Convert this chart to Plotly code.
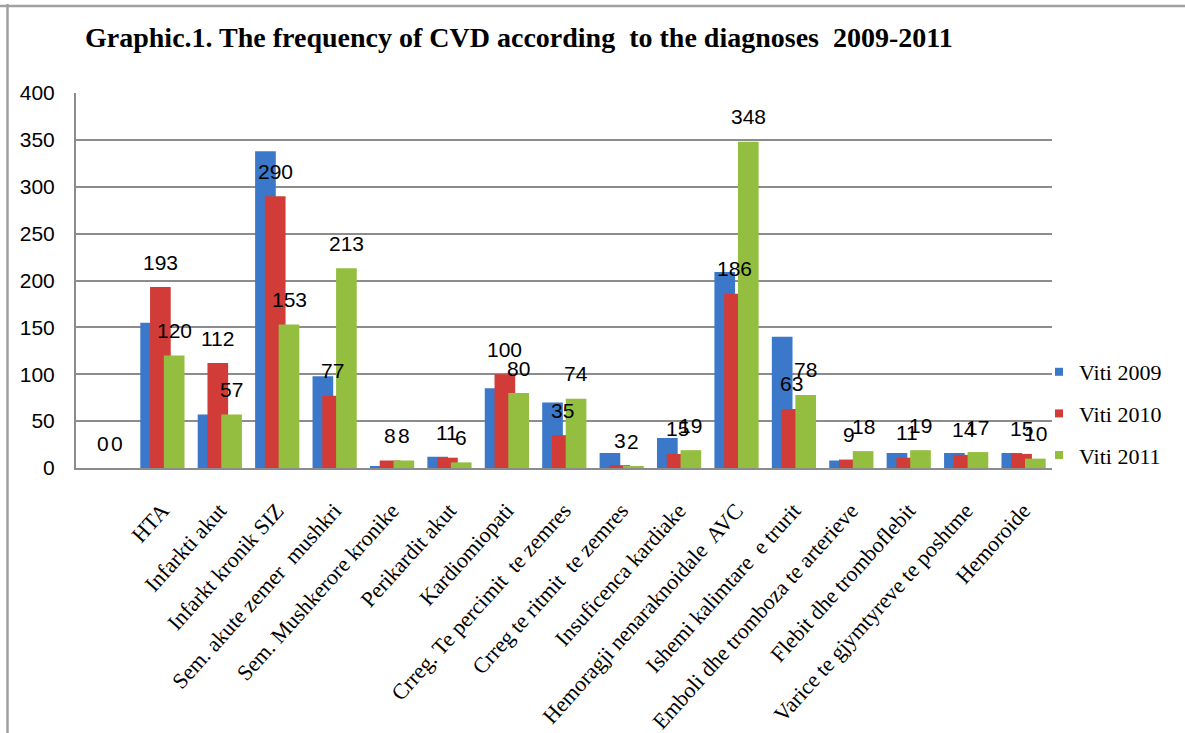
import plotly.graph_objects as go

categories = ["", "HTA", "Infarkti akut", "Infarkt kronik SIZ", "Sem. akute zemer  mushkri",
              "Sem. Mushkerore kronike", "Perikardit akut", "Kardiomiopati",
              "Crreg. Te percimit  te zemres", "Crreg te ritmit  te zemres", "Insuficenca kardiake",
              "Hemoragji nenaraknoidale  AVC", "Ishemi kalimtare  e trurit",
              "Emboli dhe tromboza te arterieve", "Flebit dhe tromboflebit",
              "Varice te gjymtyreve te poshtme", "Hemoroide"]
series_names = ["Viti 2009", "Viti 2010", "Viti 2011"]
viti_2009 = [0, 155, 57, 338, 98, 2, 12, 85, 70, 16, 32, 209, 140, 8, 16, 16, 16]
viti_2010 = [0, 193, 112, 290, 77, 8, 11, 100, 35, 3, 15, 186, 63, 9, 11, 14, 15]
viti_2011 = [0, 120, 57, 153, 213, 8, 6, 80, 74, 2, 19, 348, 78, 18, 19, 17, 10]
y_ticks = [0, 50, 100, 150, 200, 250, 300, 350, 400]

colors = ["#3B78C9", "#D13B38", "#93BE3F"]
offsets = [-0.38, -0.21, 0.03]
bar_w = 0.36
labeled = [False, True, True]

xs = list(range(len(categories)))
series = [viti_2009, viti_2010, viti_2011]

fig = go.Figure()
for vals, name, col, off in zip(series, series_names, colors, offsets):
    fig.add_trace(go.Bar(
        x=xs, y=vals, name=name, offset=off, width=bar_w,
        marker=dict(color=col, line=dict(width=0)),
        showlegend=False,
    ))
for name, col in zip(series_names, colors):
    fig.add_trace(go.Scatter(
        x=[None], y=[None], mode="markers", name=name,
        marker=dict(symbol="square", size=8, color=col),
    ))

annotations = []
for vals, off, lab in zip(series, offsets, labeled):
    if not lab:
        continue
    for xi, v in zip(xs, vals):
        annotations.append(dict(
            x=xi + off + bar_w / 2, y=v, xref="x", yref="y",
            text=str(v), showarrow=False, yanchor="middle", yshift=25,
            font=dict(family="Liberation Sans", size=21, color="#000000"),
        ))

W, H = 1185, 733
L, R, T, B = 76, 1052, 93, 468
pw, ph = R - L, B - T

def px_x(p):
    return (p - L) / pw

def px_y(p):
    return (B - p) / ph

shapes = [
    dict(type="line", xref="paper", yref="paper", x0=px_x(0), x1=px_x(W), y0=px_y(6), y1=px_y(6),
         line=dict(color="#A0A0A0", width=2.5)),
    dict(type="line", xref="paper", yref="paper", x0=px_x(7.5), x1=px_x(7.5), y0=px_y(4), y1=px_y(H),
         line=dict(color="#A0A0A0", width=2.5)),
]

fig.update_layout(
    width=W, height=H,
    margin=dict(l=L, r=W - R, t=T, b=H - B, autoexpand=False),
    paper_bgcolor="white", plot_bgcolor="white",
    barmode="overlay",
    title=dict(text="<b>Graphic.1. The frequency of CVD according  to the diagnoses  2009-2011</b>",
               x=85 / W, xref="container", xanchor="left",
               y=1 - 37 / H, yref="container", yanchor="middle",
               font=dict(family="Liberation Serif", size=28, color="#000000")),
    xaxis=dict(range=[-0.5, len(categories) - 0.5], tickmode="array", tickvals=xs, ticktext=categories,
               tickangle=-48, showgrid=False, zeroline=False, showline=True, linecolor="#8C8C8C", linewidth=2,
               ticks="", ticklabelstandoff=19,
               tickfont=dict(family="Liberation Serif", size=22, color="#000000")),
    yaxis=dict(range=[0, 400], tickvals=y_ticks, showgrid=True, gridcolor="#8C8C8C", gridwidth=1.5,
               zeroline=False, showline=True, linecolor="#8C8C8C", linewidth=2, ticks="",
               ticklabelstandoff=15,
               tickfont=dict(family="Liberation Sans", size=21, color="#000000")),
    legend=dict(x=px_x(1039), y=px_y(351), xanchor="left", yanchor="top",
                font=dict(family="Liberation Serif", size=22, color="#000000"),
                bgcolor="rgba(0,0,0,0)", tracegroupgap=10, traceorder="grouped"),
    annotations=annotations,
    shapes=shapes,
)
for i, tr in enumerate(fig.data):
    if tr.type == "scatter":
        tr.legendgroup = "g%d" % i

fig.write_html("out.html")
